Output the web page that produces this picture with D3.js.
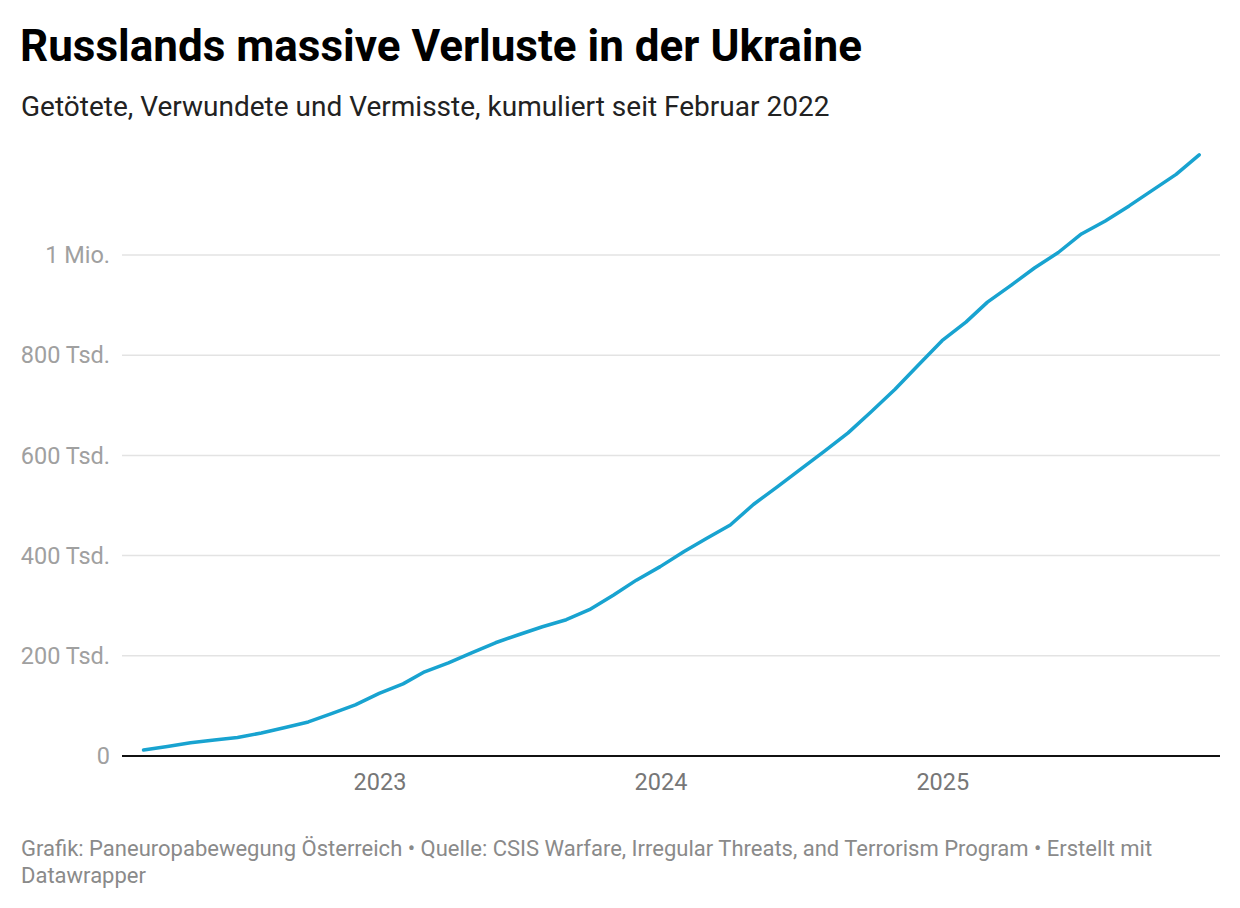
<!DOCTYPE html>
<html>
<head>
<meta charset="utf-8">
<script src="https://cdn.jsdelivr.net/npm/d3@7"></script>
<style>
  body { margin: 0; background: #fff; font-family: Roboto, sans-serif; }
</style>
</head>
<body>
<script>
// monthly, end of month, Feb 2022 - Nov 2025
var months = [
  "2022-02-28","2022-03-31","2022-04-30","2022-05-31","2022-06-30","2022-07-31",
  "2022-08-31","2022-09-30","2022-10-31","2022-11-30","2022-12-31",
  "2023-01-31","2023-02-28","2023-03-31","2023-04-30","2023-05-31","2023-06-30",
  "2023-07-31","2023-08-31","2023-09-30","2023-10-31","2023-11-30","2023-12-31",
  "2024-01-31","2024-02-29","2024-03-31","2024-04-30","2024-05-31","2024-06-30",
  "2024-07-31","2024-08-31","2024-09-30","2024-10-31","2024-11-30","2024-12-31",
  "2025-01-31","2025-02-28","2025-03-31","2025-04-30","2025-05-31","2025-06-30",
  "2025-07-31","2025-08-31","2025-09-30","2025-10-31","2025-11-30"
];
var losses = [
  12000, 19000, 26500, 32000, 37000, 46000,
  57000, 68000, 85000, 102000, 125000,
  144000, 168000, 186000, 206000, 226000, 242000,
  258000, 272000, 292000, 321000, 351000, 378000,
  408000, 434000, 461000, 502000, 537000, 572000,
  608000, 645000, 687000, 732000, 780000, 829000,
  866000, 906000, 940000, 974000, 1005000, 1042000,
  1068000, 1098000, 1129000, 1161000, 1200000
];
var yTicks = [0, 200000, 400000, 600000, 800000, 1000000];
var yTickLabels = ["0", "200 Tsd.", "400 Tsd.", "600 Tsd.", "800 Tsd.", "1 Mio."];
var xTicks = ["2023-01-01", "2024-01-01", "2025-01-01"];

var parse = d3.timeParse("%Y-%m-%d");
var data = months.map(function(m, i) { return { date: parse(m), value: losses[i] }; });

var w = 1240, h = 908;
var svg = d3.select("body").append("svg")
  .attr("width", w)
  .attr("height", h);

// title + subtitle
svg.append("text")
  .attr("x", 20).attr("y", 61)
  .attr("font-size", "44px")
  .attr("font-weight", "700")
  .attr("fill", "#000")
  .text("Russlands massive Verluste in der Ukraine");

svg.append("text")
  .attr("x", 21).attr("y", 116)
  .attr("font-size", "28px")
  .attr("fill", "#222")
  .text("Getötete, Verwundete und Vermisste, kumuliert seit Februar 2022");

var left = 122, right = 1220;
var x = d3.scaleTime()
  .domain([parse("2022-01-31"), parse("2025-12-27")])
  .range([left, right]);
var y = d3.scaleLinear()
  .domain([0, 1000000])
  .range([756, 255]);

// grid lines
svg.selectAll("line.grid")
  .data(yTicks.slice(1))
  .enter()
  .append("line")
  .attr("class", "grid")
  .attr("x1", left).attr("x2", right)
  .attr("y1", function(d) { return y(d); })
  .attr("y2", function(d) { return y(d); })
  .attr("stroke", "#e3e3e3")
  .attr("stroke-width", 1.5);

// y labels
svg.selectAll("text.ylab")
  .data(yTicks)
  .enter()
  .append("text")
  .attr("class", "ylab")
  .attr("x", 110)
  .attr("y", function(d) { return y(d); })
  .attr("dy", "0.35em")
  .attr("text-anchor", "end")
  .attr("font-size", "23.5px")
  .attr("fill", "#a0a0a0")
  .text(function(d, i) { return yTickLabels[i]; });

// x labels
svg.selectAll("text.xlab")
  .data(xTicks)
  .enter()
  .append("text")
  .attr("class", "xlab")
  .attr("x", function(d) { return x(parse(d)); })
  .attr("y", 790)
  .attr("text-anchor", "middle")
  .attr("font-size", "23.5px")
  .attr("fill", "#777")
  .text(function(d) { return d.slice(0, 4); });

// baseline
svg.append("line")
  .attr("x1", left).attr("x2", right)
  .attr("y1", y(0)).attr("y2", y(0))
  .attr("stroke", "#111")
  .attr("stroke-width", 2);

var line = d3.line()
  .x(function(d) { return x(d.date); })
  .y(function(d) { return y(d.value); });

svg.append("path")
  .datum(data)
  .attr("d", line)
  .attr("fill", "none")
  .attr("stroke", "#18a3d0")
  .attr("stroke-width", 3.5)
  .attr("stroke-linejoin", "round")
  .attr("stroke-linecap", "round");

// footer
var foot = svg.append("text")
  .attr("font-size", "22px")
  .attr("fill", "#8a8a8a");
foot.append("tspan").attr("x", 21).attr("y", 856)
  .text("Grafik: Paneuropabewegung Österreich • Quelle: CSIS Warfare, Irregular Threats, and Terrorism Program • Erstellt mit");
foot.append("tspan").attr("x", 21).attr("y", 883)
  .text("Datawrapper");
</script>
</body>
</html>
